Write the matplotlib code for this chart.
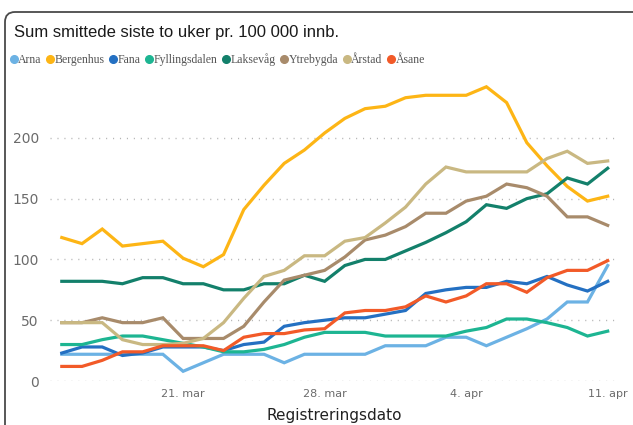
import matplotlib
matplotlib.use("Agg")
import matplotlib.pyplot as plt
from matplotlib.lines import Line2D
from matplotlib.patches import FancyBboxPatch
from matplotlib.transforms import IdentityTransform
import pandas as pd

# registreringsdato, 15. mar - 11. apr
dates = pd.date_range("2021-03-15", "2021-04-11", freq="D")

arna = [22, 22, 22, 22, 22, 22, 8, 15, 22, 22, 22, 15, 22, 22, 22, 22, 29, 29, 29, 36, 36, 29, 36, 43, 51, 65, 65, 95]
bergenhus = [118, 113, 125, 111, 113, 115, 101, 94, 104, 141, 161, 179, 190, 204, 216, 224, 226, 233, 235, 235, 235, 242, 229, 196, 177, 160, 148, 152]
fana = [23, 28, 28, 21, 23, 28, 28, 28, 25, 30, 32, 45, 48, 50, 52, 52, 55, 58, 72, 75, 77, 77, 82, 80, 86, 79, 74, 82]
fyllingsdalen = [30, 30, 34, 37, 37, 34, 31, 28, 24, 24, 26, 30, 36, 40, 40, 40, 37, 37, 37, 37, 41, 44, 51, 51, 48, 44, 37, 41]
laksevag = [82, 82, 82, 80, 85, 85, 80, 80, 75, 75, 80, 80, 87, 82, 95, 100, 100, 107, 114, 122, 131, 145, 142, 150, 154, 167, 162, 175]
ytrebygda = [48, 48, 52, 48, 48, 52, 35, 35, 35, 45, 65, 83, 87, 91, 102, 116, 120, 127, 138, 138, 148, 152, 162, 159, 152, 135, 135, 128]
arstad = [48, 48, 48, 34, 30, 30, 31, 35, 48, 68, 86, 91, 103, 103, 115, 118, 130, 143, 162, 176, 172, 172, 172, 172, 183, 189, 179, 181]
asane = [12, 12, 17, 24, 24, 29, 29, 29, 25, 36, 39, 39, 42, 43, 56, 58, 58, 61, 70, 65, 70, 80, 80, 73, 85, 91, 91, 99]

names = ["Arna", "Bergenhus", "Fana", "Fyllingsdalen", "Laksevåg", "Ytrebygda", "Årstad", "Åsane"]
series = [arna, bergenhus, fana, fyllingsdalen, laksevag, ytrebygda, arstad, asane]
colors = ["#6cb2e4", "#fdb515", "#2470c2", "#1db592", "#13806b", "#a88b6b", "#c9b882", "#f25a28"]

tick_dates = pd.to_datetime(["2021-03-21", "2021-03-28", "2021-04-04", "2021-04-11"])
tick_labels = ["21. mar", "28. mar", "4. apr", "11. apr"]
y_ticks = [0, 50, 100, 150, 200]

fig = plt.figure(figsize=(6.33, 4.25), dpi=100)
ax = fig.add_axes([0.079, 0.1035, 0.897, 0.7295])

for name, vals, col in zip(names, series, colors):
    ax.plot(dates, vals, color=col, linewidth=2.3, solid_joinstyle="miter", label=name)

ax.set_xlim(dates[0] - pd.Timedelta(hours=14), dates[-1] + pd.Timedelta(hours=12))
ax.set_ylim(0, 255)

ax.set_xticks(tick_dates)
ax.set_xticklabels(tick_labels)
ax.set_yticks(y_ticks)
ax.tick_params(axis="both", length=0, colors="#6b6b6b")
ax.tick_params(axis="y", labelsize=10, pad=8)
ax.tick_params(axis="x", labelsize=8, pad=6)
ax.yaxis.grid(True, linestyle=(0, (0.8, 4.2)), color="#b5b5b5", linewidth=1)
ax.set_axisbelow(True)
for s in ax.spines.values():
    s.set_visible(False)

ax.set_xlabel("Registreringsdato", fontsize=11, color="#222222", labelpad=6)

# title
fig.text(14 / 633, 1 - 32 / 425, "Sum smittede siste to uker pr. 100 000 innb.",
         fontsize=12, color="#1a1a1a", va="center", ha="left",
         family="Liberation Sans")

# legend
handles = [Line2D([], [], linestyle="none", marker="o", markersize=5.5,
                  markerfacecolor=c, markeredgecolor=c) for c in colors]
fig.legend(handles, names, loc="center left", bbox_to_anchor=(10 / 633, 1 - 60 / 425),
           ncol=8, frameon=False, handlelength=0.6, handletextpad=0.1,
           columnspacing=0.4, borderpad=0, borderaxespad=0,
           prop={"family": "Liberation Serif", "size": 8.5}, labelcolor="#555555")

# visual border (right edge runs off the image)
border = FancyBboxPatch((5, -30), 650, 425 - 12 + 30,
                        boxstyle="round,pad=0,rounding_size=10",
                        transform=IdentityTransform(), fill=False,
                        edgecolor="#4a4a4a", linewidth=1.3)
fig.add_artist(border)

fig.savefig("out.png", dpi=100)
